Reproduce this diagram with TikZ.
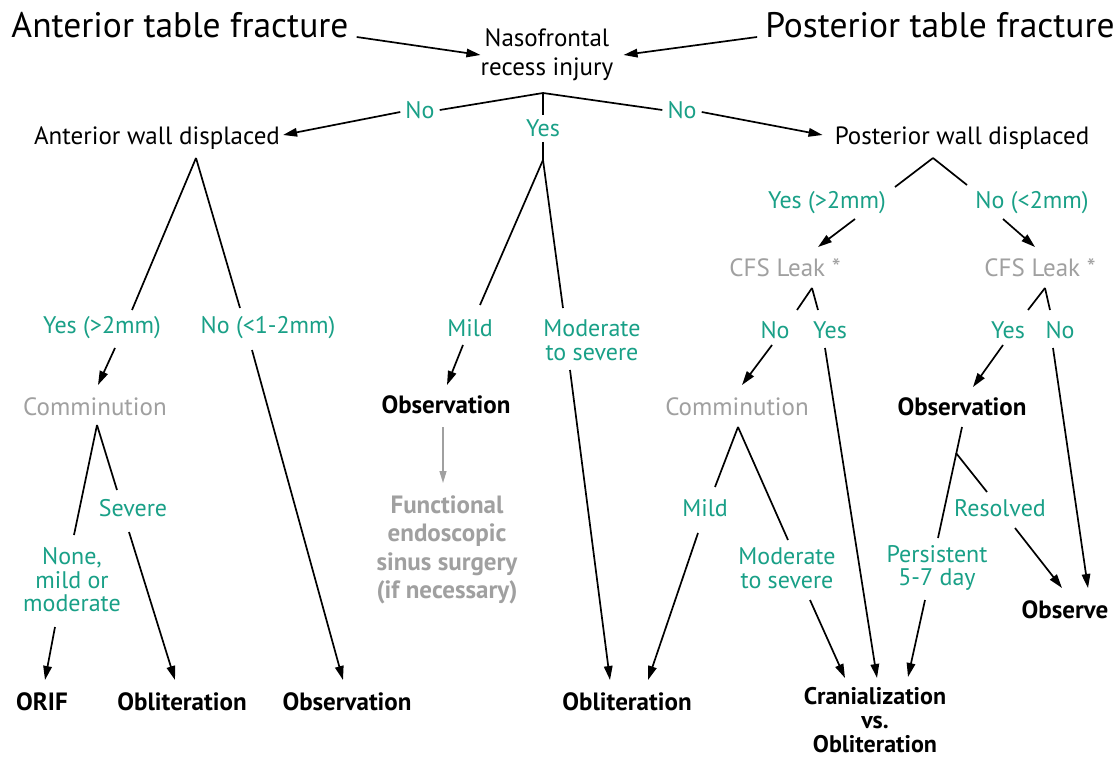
\documentclass[tikz,border=0pt]{standalone}
\usepackage{fontspec}
\setmainfont{PT Sans}
\usetikzlibrary{arrows.meta}
\definecolor{tealg}{RGB}{25,160,135}
\definecolor{lgray}{RGB}{160,160,160}
\begin{document}
\begin{tikzpicture}[x=1pt,y=-1pt,
  every node/.style={inner sep=0pt, align=center},
  ttl/.style={font=\fontsize{35.5}{40}\selectfont},
  txt/.style={font=\fontsize{25}{28.5}\selectfont},
  lbl/.style={font=\fontsize{24}{23.5}\selectfont, text=tealg},
  gry/.style={font=\fontsize{25}{28.5}\selectfont, text=lgray},
  bld/.style={font=\bfseries\fontsize{25}{24}\selectfont},
  ln/.style={line width=1.7pt, black},
  arr/.style={ln, -{Triangle[length=14pt,width=8.5pt]}},
  garr/.style={line width=1.3pt, lgray, -{Triangle[length=12pt,width=7pt]}}
]
\fill[white] (0,0) rectangle (1119,759);
\useasboundingbox (0,0) rectangle (1119,759);

% top
\node[ttl] (atf) at (180,25) {Anterior table fracture};
\node[ttl] (ptf) at (940,25) {Posterior table fracture};
\node[txt] (nfr) at (547,55) {Nasofrontal\\recess injury};
\coordinate (a0) at (543,93);
\node[lbl] (noL) at (420,110) {No};
\node[lbl] (yesM) at (543,128) {Yes};
\node[lbl] (noR) at (682,110) {No};
\node[txt] (awd) at (157,138) {Anterior wall displaced};
\node[txt] (pwd) at (962,138) {Posterior wall displaced};

\draw[arr] ([shift={(8,12)}]atf.east) -- (nfr.west);
\draw[arr] ([shift={(-8,12)}]ptf.west) -- ([shift={(10,0)}]nfr.east);
\draw[ln] (a0) -- ([shift={(5,0)}]noL.east);
\draw[arr] ([shift={(-5,2)}]noL.west) -- ([shift={(3,-3)}]awd.east);
\draw[ln] (a0) -- ([shift={(0,-4)}]yesM.north);
\draw[ln] (a0) -- ([shift={(-5,0)}]noR.west);
\draw[arr] ([shift={(5,2)}]noR.east) -- ([shift={(-12,-3)}]pwd.west);

% left subtree
\coordinate (aA) at (196,158);
\node[lbl] (yesA) at (102,328) {Yes (>2mm)};
\node[lbl] (noA) at (268,328) {No (<1-2mm)};
\draw[ln] (aA) -- ([shift={(30,-18)}]yesA.center);
\draw[ln] (aA) -- ([shift={(-28,-20)}]noA.center);
\node[gry] (comA) at (95,407) {Comminution};
\draw[arr] ([shift={(13,20)}]yesA.center) -- ([shift={(3,-22)}]comA.center);
\node[bld] (obsA) at (347,702) {Observation};
\draw[arr] ([shift={(-16,22)}]noA.center) -- ([shift={(-4,-22)}]obsA.center);
\coordinate (cA) at (97,425);
\node[lbl] (sev) at (133,508) {Severe};
\node[lbl] (none) at (72,580) {None,\\mild or\\moderate};
\draw[ln] (cA) -- ([shift={(2,-45)}]none.center);
\draw[ln] (cA) -- ([shift={(-16,-18)}]sev.center);
\node[bld] (orif) at (42,702) {ORIF};
\node[bld] (oblA) at (182,702) {Obliteration};
\draw[arr] ([shift={(-17,47)}]none.center) -- ([shift={(3,-22)}]orif.center);
\draw[arr] ([shift={(-4,24)}]sev.center) -- ([shift={(-7,-22)}]oblA.center);

% middle subtree
\coordinate (aM) at (543,160);
\draw[ln] ([shift={(0,14)}]yesM.center) -- (aM);
\node[lbl] (mild) at (470,328) {Mild};
\node[lbl] (modM) at (592,340) {Moderate\\to severe};
\draw[ln] (aM) -- ([shift={(10,-23)}]mild.center);
\draw[ln] (aM) -- ([shift={(-29,-32)}]modM.center);
\node[bld] (obsM) at (446,405) {Observation};
\draw[arr] ([shift={(-7,17)}]mild.center) -- ([shift={(1,-20)}]obsM.center);
\node[gry, font=\bfseries\fontsize{25}{28.5}\selectfont] (fess) at (447,550) {Functional\\endoscopic\\sinus surgery\\(if necessary)};
\draw[garr] ([shift={(-3,22)}]obsM.center) -- ([shift={(-4,-67)}]fess.center);
\node[bld] (oblM) at (627,702) {Obliteration};
\draw[arr] ([shift={(-22,30)}]modM.center) -- ([shift={(-17,-22)}]oblM.center);

% right subtree
\coordinate (aP) at (933,158);
\node[lbl] (yesP) at (827,203) {Yes (>2mm)};
\node[lbl] (noP) at (1032,203) {No (<2mm)};
\draw[ln] (aP) -- ([shift={(68,-16)}]yesP.center);
\draw[ln] (aP) -- ([shift={(-65,-18)}]noP.center);
\node[gry] (cfsL) at (785,268) {CFS Leak *};
\node[gry] (cfsR) at (1040,268) {CFS Leak *};
\draw[arr] ([shift={(28,16)}]yesP.center) -- ([shift={(33,-21)}]cfsL.center);
\draw[arr] ([shift={(-29,16)}]noP.center) -- ([shift={(-5,-21)}]cfsR.center);
\coordinate (cL) at (812,288);
\node[lbl] (noC) at (775,330) {No};
\node[lbl] (yesC) at (830,330) {Yes};
\draw[ln] (cL) -- ([shift={(22,-20)}]noC.center);
\draw[ln] (cL) -- ([shift={(-12,-20)}]yesC.center);
\node[gry] (comR) at (737,407) {Comminution};
\draw[arr] ([shift={(-3,15)}]noC.center) -- ([shift={(5,-22)}]comR.center);
\node[bld, font=\bfseries\fontsize{24}{24}\selectfont] (cran) at (875,720) {Cranialization\\vs.\\Obliteration};
\draw[arr] ([shift={(-5,18)}]yesC.center) -- ([shift={(2,-42)}]cran.center);
\coordinate (cR) at (738,427);
\node[lbl] (mildR) at (705,508) {Mild};
\node[lbl] (modR) at (787,568) {Moderate\\to severe};
\draw[ln] (cR) -- ([shift={(10,-21)}]mildR.center);
\draw[ln] (cR) -- ([shift={(1,-28)}]modR.center);
\draw[arr] ([shift={(-7,25)}]mildR.center) -- ([shift={(21,-22)}]oblM.center);
\draw[arr] ([shift={(23,32)}]modR.center) -- ([shift={(-30,-42)}]cran.center);
\coordinate (cR2) at (1045,288);
\node[lbl] (yesR) at (1008,330) {Yes};
\node[lbl] (noRR) at (1060,330) {No};
\draw[ln] (cR2) -- ([shift={(20,-20)}]yesR.center);
\draw[ln] (cR2) -- ([shift={(-10,-20)}]noRR.center);
\node[bld] (obsR) at (962,407) {Observation};
\draw[arr] ([shift={(-5,15)}]yesR.center) -- ([shift={(11,-20)}]obsR.center);
\node[bld] (obsv) at (1065,610) {Observe};
\draw[arr] ([shift={(-7,18)}]noRR.center) -- ([shift={(23,-22)}]obsv.center);
\node[lbl] (pers) at (937,568) {Persistent\\5-7 day};
\node[lbl] (res) at (1000,508) {Resolved};
\coordinate (br) at (956,453);
\draw[ln] ([shift={(0,20)}]obsR.center) -- ([shift={(1,-30)}]pers.center);
\draw[ln] (br) -- ([shift={(-13,-16)}]res.center);
\draw[arr] ([shift={(15,20)}]res.center) -- ([shift={(-3,-22)}]obsv.center);
\draw[arr] ([shift={(-12,32)}]pers.center) -- ([shift={(33,-43)}]cran.center);
\end{tikzpicture}
\end{document}
